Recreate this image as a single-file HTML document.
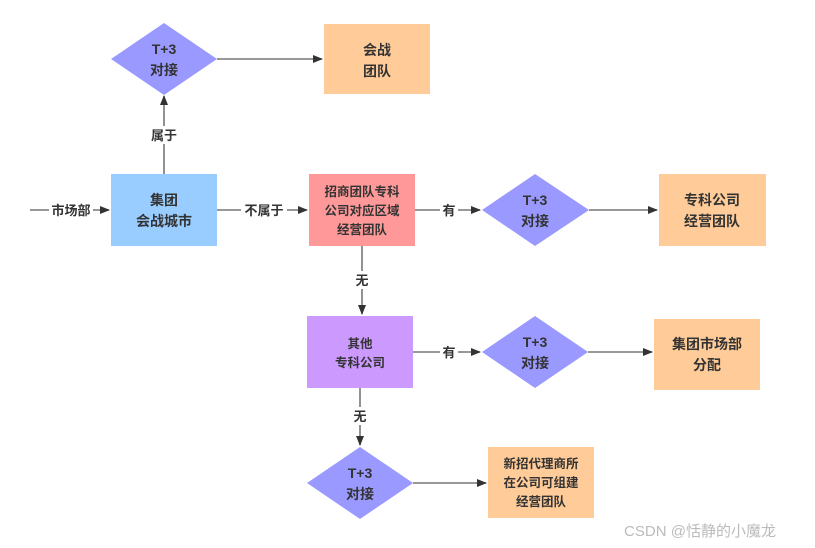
<!DOCTYPE html>
<html><head><meta charset="utf-8"><style>
html,body{margin:0;padding:0;background:#fff;}
svg{display:block;}
text{font-family:"Liberation Sans","Noto Sans CJK SC",sans-serif;font-weight:bold;fill:#333;text-anchor:middle;}
.l{font-size:13px;}
.n{font-size:14px;}
.s{font-size:12.5px;}
</style></head><body>
<svg width="815" height="548" viewBox="0 0 815 548" xmlns="http://www.w3.org/2000/svg">
<defs><marker id="a" markerWidth="10" markerHeight="8" refX="9" refY="4" orient="auto" markerUnits="userSpaceOnUse"><path d="M0,0 L10,4 L0,8 Z" fill="#333"/></marker></defs>
<g stroke="#777" stroke-width="1.6" fill="none">
<line x1="217" y1="59" x2="322" y2="59" marker-end="url(#a)"/>
<line x1="164" y1="174" x2="164" y2="96" marker-end="url(#a)"/>
<line x1="30" y1="210" x2="109" y2="210" marker-end="url(#a)"/>
<line x1="217" y1="210" x2="307" y2="210" marker-end="url(#a)"/>
<line x1="415" y1="210" x2="480" y2="210" marker-end="url(#a)"/>
<line x1="589" y1="210" x2="657" y2="210" marker-end="url(#a)"/>
<line x1="362" y1="246" x2="362" y2="314" marker-end="url(#a)"/>
<line x1="413" y1="352" x2="480" y2="352" marker-end="url(#a)"/>
<line x1="588" y1="352" x2="652" y2="352" marker-end="url(#a)"/>
<line x1="360" y1="388" x2="360" y2="445" marker-end="url(#a)"/>
<line x1="413" y1="483" x2="486" y2="483" marker-end="url(#a)"/>
</g>
<!-- label backgrounds -->
<g fill="#fff">
<rect x="150" y="126" width="28" height="18"/>
<rect x="49" y="201" width="44" height="18"/>
<rect x="241" y="201" width="46" height="18"/>
<rect x="440" y="201" width="18" height="18"/>
<rect x="353" y="271" width="18" height="18"/>
<rect x="440" y="343" width="18" height="18"/>
<rect x="351" y="407" width="18" height="18"/>
</g>
<g class="l">
<text x="164" y="140">属于</text>
<text x="71" y="215">市场部</text>
<text x="264" y="215">不属于</text>
<text x="449" y="215">有</text>
<text x="362" y="285">无</text>
<text x="449" y="357">有</text>
<text x="360" y="421">无</text>
</g>
<!-- shapes -->
<polygon points="164,23 217,59 164,95 111,59" fill="#9999ff"/>
<rect x="324" y="24" width="106" height="70" fill="#ffcc99"/>
<rect x="111" y="174" width="106" height="72" fill="#99ccff"/>
<rect x="309" y="174" width="106" height="72" fill="#ff9999"/>
<polygon points="535,174 589,210 535,246 482,210" fill="#9999ff"/>
<rect x="659" y="174" width="107" height="72" fill="#ffcc99"/>
<rect x="307" y="316" width="106" height="72" fill="#cc99ff"/>
<polygon points="535,316 588,352 535,388 482,352" fill="#9999ff"/>
<rect x="654" y="319" width="106" height="71" fill="#ffcc99"/>
<polygon points="360,447 413,483 360,519 307,483" fill="#9999ff"/>
<rect x="488" y="447" width="106" height="71" fill="#ffcc99"/>
<g class="n">
<text x="164" y="54">T+3</text><text x="164" y="75">对接</text>
<text x="377" y="55">会战</text><text x="377" y="76">团队</text>
<text x="164" y="205">集团</text><text x="164" y="226">会战城市</text>
<text x="535" y="205">T+3</text><text x="535" y="226">对接</text>
<text x="712" y="205">专科公司</text><text x="712" y="226">经营团队</text>
<text x="535" y="347">T+3</text><text x="535" y="368">对接</text>
<text x="707" y="349">集团市场部</text><text x="707" y="370">分配</text>
<text x="360" y="478">T+3</text><text x="360" y="499">对接</text>
</g>
<g class="s">
<text x="362" y="196">招商团队专科</text><text x="362" y="215">公司对应区域</text><text x="362" y="234">经营团队</text>
<text x="360" y="348">其他</text><text x="360" y="367">专科公司</text>
<text x="541" y="468">新招代理商所</text><text x="541" y="487">在公司可组建</text><text x="541" y="506">经营团队</text>
</g>
<text x="700" y="536" style="font-size:15px;font-weight:normal;fill:#bbb;">CSDN @恬静的小魔龙</text>
</svg>
</body></html>
